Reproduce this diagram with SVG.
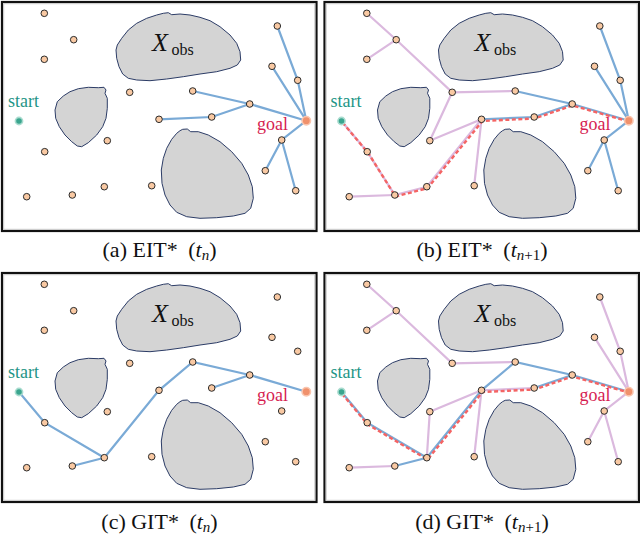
<svg xmlns="http://www.w3.org/2000/svg" xmlns:xlink="http://www.w3.org/1999/xlink" width="640" height="540" viewBox="0 0 640 540">
<style>
.frame{fill:#fff;stroke:#111;stroke-width:2.2}
.inner{fill:none;stroke:#c8c8c8;stroke-width:1}
.obs{fill:#d4d4d4;stroke:#2c3c66;stroke-width:1}
.blue{stroke:#7aaad6;stroke-width:2.2;fill:none;stroke-linecap:round}
.purple{stroke:#dbb9de;stroke-width:2.2;fill:none;stroke-linecap:round}
.red{stroke:#f46464;stroke-width:2.4;fill:none;stroke-dasharray:4 2.5}
.node{fill:#f9c9a3;stroke:#2b2b2b;stroke-width:1}
.start{fill:#3aa58e;stroke:#a9dccf;stroke-width:1.6}
.goal{fill:#f0916c;stroke:#f9c4ad;stroke-width:1.6}
.lstart{font-family:"Liberation Serif","Times New Roman",serif;font-size:18px;fill:#1f9687}
.lgoal{font-family:"Liberation Serif","Times New Roman",serif;font-size:18px;fill:#d61d52}
.xobs{font-family:"Liberation Serif","Times New Roman",serif;font-size:26px;font-style:italic;fill:#111}
.sub{font-family:"Liberation Serif","Times New Roman",serif;font-size:16px;fill:#111}
.cap{font-family:"Liberation Serif","Times New Roman",serif;font-size:22px;fill:#111}
.it{font-style:italic}
.sc{font-size:15px}
</style>
<defs>
<g id="base">
<rect class="frame" x="2" y="2" width="314.5" height="229"/>
<rect class="inner" x="3.7" y="3.7" width="311.1" height="225.6"/>
<path class="obs" d="M116,50 L117.3,45 L121.7,38.3 L128.3,30 L136.7,23.3 L146.7,18.3 L156.7,15 L163.3,13.3 L168.3,12.7 L171.7,14.7 L180,14 L190,15 L200,17.3 L210,20.7 L220,26.7 L230,35 L236.7,43.3 L240,51.7 L240.7,60 L237.3,65 L230,68.3 L216.7,71.7 L200,74 L183.3,76.7 L166.7,79 L150,80.7 L136.7,80 L128.3,78.3 L122.7,74 L119,66.7 L116.7,58.3 Z"/>
<path class="obs" d="M55,110 L57.3,101.7 L63.3,96 L70,91.7 L78.3,88.7 L88.3,87.3 L98.3,87.7 L104,87.3 L106,90 L105,93.3 L107.3,98.3 L107.3,108.3 L106,118.3 L102.7,126.7 L96.7,135 L88.3,142.7 L81.7,146.7 L77.3,146 L71.7,141.7 L65,135 L59.3,126.7 L55.7,118.3 Z"/>
<path class="obs" d="M180,130.7 L182.7,129.3 L187.3,129 L190.7,131.7 L198.3,131.7 L208.3,135 L220,141.7 L231.7,151.7 L241.7,163.3 L248.3,175 L252.3,186.7 L253.3,198.3 L250.7,208.3 L245,213.3 L233.3,216 L216.7,217.7 L200,218.3 L186.7,216.7 L176.7,212.3 L170,205 L165,195 L162,183.3 L161.3,170 L163.3,158.3 L166.7,148.3 L171.7,139.3 L176.7,133.3 Z"/>
<text class="xobs" x="152" y="51">X</text>
<text class="sub" x="171.5" y="55">obs</text>
<text class="lstart" x="8" y="107">start</text>
<text class="lgoal" x="257" y="130">goal</text>
</g>
<g id="nodes">
<circle class="node" cx="44.3" cy="13.3" r="3.3"/>
<circle class="node" cx="73.7" cy="39.7" r="3.3"/>
<circle class="node" cx="44.3" cy="59.3" r="3.3"/>
<circle class="node" cx="129.7" cy="92.3" r="3.3"/>
<circle class="node" cx="107.3" cy="140.7" r="3.3"/>
<circle class="node" cx="44.7" cy="151.7" r="3.3"/>
<circle class="node" cx="26.7" cy="196.7" r="3.3"/>
<circle class="node" cx="72.3" cy="195" r="3.3"/>
<circle class="node" cx="104.3" cy="186.7" r="3.3"/>
<circle class="node" cx="151.7" cy="185.7" r="3.3"/>
<circle class="node" cx="192.7" cy="91" r="3.3"/>
<circle class="node" cx="249.7" cy="104" r="3.3"/>
<circle class="node" cx="211.7" cy="117" r="3.3"/>
<circle class="node" cx="159" cy="119.3" r="3.3"/>
<circle class="node" cx="277.3" cy="26" r="3.3"/>
<circle class="node" cx="272" cy="66.3" r="3.3"/>
<circle class="node" cx="297.7" cy="80.3" r="3.3"/>
<circle class="node" cx="281.7" cy="140" r="3.3"/>
<circle class="node" cx="265.3" cy="170.7" r="3.3"/>
<circle class="node" cx="295.7" cy="190.7" r="3.3"/>
<circle class="start" cx="19" cy="121" r="3.6"/>
<circle class="goal" cx="306.3" cy="120.7" r="4.2"/>
</g>
</defs>

<g id="panel-a">
<use xlink:href="#base"/>
<g id="a-connectors">
<polyline class="blue" points="277.3,26 297.7,80.3 306.3,120.7"/>
<line class="blue" x1="306.3" y1="120.7" x2="272" y2="66.3"/>
<polyline class="blue" points="306.3,120.7 249.7,104 192.7,91"/>
<polyline class="blue" points="249.7,104 211.7,117 159,119.3"/>
<polyline class="blue" points="306.3,120.7 281.7,140 265.3,170.7"/>
<line class="blue" x1="281.7" y1="140" x2="295.7" y2="190.7"/>
</g>
<g id="a-nodes"><use xlink:href="#nodes"/></g>
</g>

<g id="panel-b" transform="translate(322.5,0)">
<use xlink:href="#base"/>
<g id="b-connectors">
<polyline class="purple" points="44.3,13.3 73.7,39.7 129.7,92.3 192.7,91"/>
<line class="purple" x1="73.7" y1="39.7" x2="44.3" y2="59.3"/>
<polyline class="purple" points="129.7,92.3 107.3,140.7 159,119.3 151.7,185.7"/>
<polyline class="purple" points="19,121 44.7,151.7 72.3,195 104.3,186.7 159,119.3"/>
<line class="purple" x1="26.7" y1="196.7" x2="72.3" y2="195"/>
<polyline class="blue" points="192.7,91 249.7,104 306.3,120.7"/>
<polyline class="blue" points="159,119.3 211.7,117 249.7,104"/>
<polyline class="blue" points="277.3,26 297.7,80.3 306.3,120.7"/>
<line class="blue" x1="306.3" y1="120.7" x2="272" y2="66.3"/>
<polyline class="blue" points="306.3,120.7 281.7,140 265.3,170.7"/>
<line class="blue" x1="281.7" y1="140" x2="295.7" y2="190.7"/>
<polyline class="red" points="20,122.5 45.7,153 73,196.5 105,188.2 160,121 212,118.5 250,105.5 306.3,121.5"/>
</g>
<g id="b-nodes"><use xlink:href="#nodes"/></g>
</g>

<g id="panel-c" transform="translate(0,271)">
<use xlink:href="#base"/>
<g id="c-connectors">
<polyline class="blue" points="19,121 44.7,151.7 104.3,186.7 159,119.3 192.7,91 249.7,104 306.3,120.7"/>
<line class="blue" x1="72.3" y1="195" x2="104.3" y2="186.7"/>
<line class="blue" x1="211.7" y1="117" x2="249.7" y2="104"/>
</g>
<g id="c-nodes"><use xlink:href="#nodes"/></g>
</g>

<g id="panel-d" transform="translate(322.5,271)">
<use xlink:href="#base"/>
<g id="d-connectors">
<polyline class="purple" points="44.3,13.3 73.7,39.7 129.7,92.3 192.7,91"/>
<line class="purple" x1="73.7" y1="39.7" x2="44.3" y2="59.3"/>
<polyline class="purple" points="159,119.3 107.3,140.7 104.3,186.7"/>
<line class="purple" x1="159" y1="119.3" x2="151.7" y2="185.7"/>
<line class="purple" x1="159" y1="119.3" x2="211.7" y2="117"/>
<line class="purple" x1="26.7" y1="196.7" x2="72.3" y2="195"/>
<polyline class="purple" points="277.3,26 297.7,80.3 306.3,120.7"/>
<line class="purple" x1="306.3" y1="120.7" x2="272" y2="66.3"/>
<polyline class="purple" points="306.3,120.7 281.7,140 265.3,170.7"/>
<line class="purple" x1="281.7" y1="140" x2="295.7" y2="190.7"/>
<polyline class="blue" points="19,121 44.7,151.7 104.3,186.7 159,119.3 192.7,91 249.7,104 306.3,120.7"/>
<line class="blue" x1="72.3" y1="195" x2="104.3" y2="186.7"/>
<line class="blue" x1="211.7" y1="117" x2="249.7" y2="104"/>
<polyline class="red" points="19.5,122.8 45.2,153.5 105,188.5 160,121 212,118.5 250,105.5 306.3,121.5"/>
</g>
<g id="d-nodes"><use xlink:href="#nodes"/></g>
</g>

<g id="captions">
<text class="cap" x="159.5" y="257" text-anchor="middle">(a) EIT* <tspan dx="5">(</tspan><tspan class="it">t</tspan><tspan class="it sc" dy="3">n</tspan><tspan dy="-3">)</tspan></text>
<text class="cap" x="482" y="257" text-anchor="middle">(b) EIT* <tspan dx="5">(</tspan><tspan class="it">t</tspan><tspan class="sc" dy="3"><tspan class="it">n</tspan>+1</tspan><tspan dy="-3">)</tspan></text>
<text class="cap" x="159.5" y="529" text-anchor="middle">(c) GIT* <tspan dx="5">(</tspan><tspan class="it">t</tspan><tspan class="it sc" dy="3">n</tspan><tspan dy="-3">)</tspan></text>
<text class="cap" x="482" y="529" text-anchor="middle">(d) GIT* <tspan dx="5">(</tspan><tspan class="it">t</tspan><tspan class="sc" dy="3"><tspan class="it">n</tspan>+1</tspan><tspan dy="-3">)</tspan></text>
</g>
</svg>
